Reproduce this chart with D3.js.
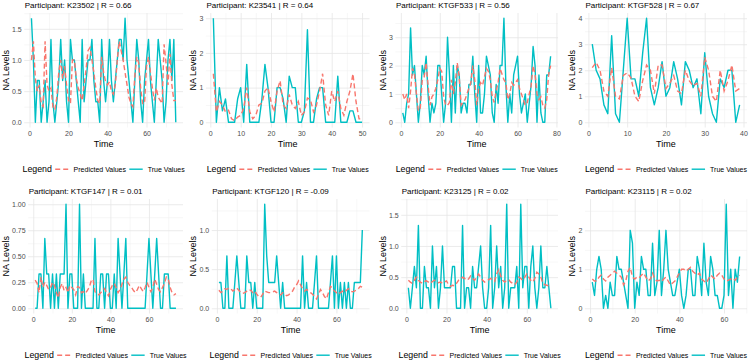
<!DOCTYPE html>
<html>
<head>
<meta charset="utf-8">
<script src="https://cdn.jsdelivr.net/npm/d3@7"></script>
<style>
  body { margin: 0; background: #fff; }
  svg { display: block; font-family: "Liberation Sans", Arial, sans-serif; }
</style>
</head>
<body>
<svg id="chart" width="750" height="361"></svg>
<script>
// ---- data ----
const participants = ["K23502", "K23541", "KTGF533", "KTGF528", "KTGF147", "KTGF120", "K23125", "K23115"];
const rValues = ["0.66", "0.64", "0.56", "0.67", "0.01", "-0.09", "0.02", "0.02"];

const trueK23502 = [1.67,1.0,0,0.67,0.67,0,0.33,0.67,0,0.33, 1.33,0.33,0,0.33,0.67,1.33,0.67,1.0,0.33,0,
  1.33,1.0,1.0,0.67,0.33,0,1.33,0.33,0.67,1.0, 1.0,1.33,0.67,0.33,0.33,0,1.33,0.67,0.33,0.67,
  1.33,0.67,0.33,0.67,1.0,1.33,1.33,1.0,1.67,1.0, 0.67,0.33,0,0.67,1.33,1.0,0.33,0,0.67,1.0,
  1.33,0.67,0.33,0,0.67,1.33,1.0,0.67,0,0.33, 1.0,1.33,0.67,1.33,0];
const predK23502 = [1.0,1.3,0.7,0.5,0.6,0.3,0.25,1.3,0.6,0.5, 0.55,0.25,0.2,0.4,0.8,1.0,0.7,0.9,0.6,0.35,
  0.3,1.0,1.0,0.7,0.55,0.45,0.35,0.6,0.85,1.15, 1.2,1.0,0.8,0.55,0.35,0.3,1.05,0.8,0.65,0.6,
  0.65,0.5,0.45,0.6,1.0,1.3,1.15,1.0,0.8,0.6, 0.4,0.3,0.25,0.75,1.05,0.95,0.55,0.3,0.3,0.9,
  1.05,0.8,0.55,0.35,0.55,0.4,0.35,0.3,1.25,0.95, 0.6,1.1,0.6,0.35,0.35];

const trueK23541 = [3.0,0,1.0,0.33,0.67,0,0,0,0.67,1.0, 0,1.67,0,0,0,0,0.67,1.67,1.0,0,
  0,1.0,1.0,0.67,0, 1.33,1.0,1.0,0,0, 0.33,2.67,0,0,0.67,1.0,1.0,0,0,0,
  0,1.33,0,0,0,0.33,0.33,0,0,0];
const predK23541 = [1.4,0.3,0.6,0.5,0.3,0.35,0.1,0.05,0.15,0.2, 0.4,1.0,0.3,0.1,0.2,0.5,0.55,0.9,1.0,0.6,
  0.3,0.9,1.2,0.5,0.4, 0.8,0.5,0.4,0.6,0.2, 0.3,0.7,0.65,0.3,0.5,0.9,1.4,0.5,0.2,0.9,
  0.6,0.9,0.4,0.2,0.6,0.9,1.4,0.6,0.1,0.1];

const trueKTGF533 = [0.33,0,0.67,1.0,3.33,1.67,2.0,1.0,0,0.67, 2.0,1.67,2.33,1.0,0,0.67,0.33,0.67,2.0,2.0,
  1.0,0,0.67,3.0,1.67,0,2.0,0.33,2.0,1.67, 0.33,0.67,0.67,0.33,1.33,1.33,2.33,1.0,0,2.0,
  0.33,0.33,1.0,2.33,2.0,1.67,0.33,0,1.33,0.67, 2.0,2.0,3.67,1.33,0,1.0,0.33,1.67,2.0,2.33,
  1.0,0.33,0.67,1.0,0,0.67,1.33,2.67,2.0,0, 1.67,0.33,0,0,1.67,1.67,2.33];
const predKTGF533 = [1.0,0.8,1.0,0.5,1.1,1.9,1.7,1.0,0.4,0.5, 1.5,1.6,2.1,1.3,0.6,0.9,1.0,1.2,1.5,1.9,
  1.8,0.9,0.6,0.6,0.7,1.5,1.0,1.4,2.1,1.6, 0.6,0.7,0.8,1.0,1.2,1.4,2.0,1.5,0.6,1.2,
  1.4,1.3,1.6,1.9,1.8,1.5,0.9,0.7,1.1,1.4, 1.9,1.7,1.5,1.4,0.8,1.0,1.4,1.3,1.4,1.5,
  1.2,1.0,0.8,0.6,0.7,1.0,1.3,2.0,1.7,1.0, 0.8,0.9,0.6,0.5,0.8,1.7,2.0];

const trueKTGF528 = [3.0,2.0,1.67,0.67,0.33,3.33,0.33,0,2.0,4.0, 1.67,1.67,1.0,2.67,4.0,1.33,0.67,1.33,2.33,1.0,
  1.33,2.33,1.67,0.67,2.33,2.0,1.33,1.67,0.33,2.67, 1.0,0.33,0,1.67,1.33,2.0,2.0,0,0.67];
const predKTGF528 = [2.1,2.3,2.0,1.2,1.0,2.1,1.0,0.9,1.8,1.9, 1.7,1.0,0.8,1.6,2.2,2.0,1.1,2.2,2.2,1.3,
  1.5,1.8,1.2,1.1,2.0,1.6,1.4,1.5,1.0,2.5, 2.0,1.0,0.8,2.0,1.2,1.6,2.2,1.2,1.3];

const trueKTGF147 = [0,0,0.33,0.33,0,0.67,0.33,0.33,0,0.33, 0,0.33,0,0.33,0.33,0.33,1.0,0,0.33,0.33,
  0,0,0,1.0,0,0.33,0,0,0,0, 0,0.67,0,0,0.33,0.33,0,0.33,0.33,0,
  0,0.33,0,0.67,0.33,0,0.33,0.67,0,0, 0,0,0,0,0,0,0,0,0.33,0.67,
  0.33,0,0.33,0.67,0.33,0,0,0.33,0.33,0.33, 0,0,0,0];
const predKTGF147 = [0.27,0.24,0.15,0.3,0.2,0.25,0.22,0.18,0.2,0.25, 0.22,0.15,0.1,0.2,0.24,0.17,0.2,0.15,0.22,0.2,
  0.18,0.13,0.21,0.2,0.15,0.16,0.14,0.17,0.2,0.26, 0.28,0.16,0.14,0.13,0.15,0.17,0.19,0.15,0.12,0.18,
  0.22,0.24,0.2,0.15,0.18,0.23,0.28,0.3,0.25,0.22, 0.2,0.17,0.15,0.18,0.22,0.19,0.16,0.2,0.25,0.2,
  0.16,0.2,0.28,0.23,0.18,0.16,0.2,0.24,0.3,0.28, 0.2,0.15,0.13,0.14];

const trueKTGF120 = [0.33,0.33,0,0,0.67,0,0,0,0.33,0.67, 0.33,0,0,0,0.67,0.33,0.33,0,0.33,0,
  0,0,0,1.33,0.67,0.33,0.33,0.33,0.33,0.67, 0.33,0,0.33,0,0,0,0,0,0,0,
  0,0,0.67,0,0.33,0,0,0,0.33,0.67, 0,0,0,0,0,0,0.33,0.67,0,0.67,
  0,0.33,0,0.33,0,0.33,0,0,0.33,0.33, 0.33,0.33,1.0];
const predKTGF120 = [0.23,0.2,0.22,0.25,0.24,0.26,0.25,0.22,0.24,0.26, 0.23,0.2,0.19,0.2,0.22,0.24,0.23,0.2,0.22,0.18,
  0.15,0.14,0.18,0.22,0.21,0.2,0.2,0.21,0.22,0.2, 0.18,0.17,0.2,0.18,0.16,0.17,0.2,0.22,0.27,0.3,
  0.35,0.3,0.25,0.22,0.24,0.22,0.2,0.18,0.15,0.12, 0.18,0.24,0.2,0.15,0.12,0.2,0.28,0.26,0.22,0.2,
  0.18,0.2,0.22,0.2,0.23,0.25,0.22,0.21,0.22,0.23, 0.25,0.28,0.27];

const trueK23125 = [0.33,0,0.33,0.67,0.33,1.33,0,0,0.67,0.33, 0.33,0,1.0,0.33,0.67,0,0.33,1.0,0.33,0.33,
  0.33,0.33,0.67,0.67,0,0,0,1.33,0,0.33, 0.33,0,0.67,0.33,0.33,0.67,1.0,0.33,0,0,
  0.33,1.33,0,0.33,1.0,0.33,0.67,0,0.33,1.67, 0,0.33,0.33,0.33,0.67,0,1.67,0.33,0.67,0.67,
  0,0.67,1.0,0.33,0,0.33,1.0,0.33,0.33,0.67, 0.33,0];
const predK23125 = [0.45,0.42,0.4,0.45,0.5,0.45,0.42,0.4,0.43,0.44, 0.42,0.4,0.43,0.45,0.44,0.41,0.42,0.4,0.42,0.44,
  0.38,0.35,0.37,0.36,0.4,0.45,0.47,0.5,0.48,0.45, 0.47,0.52,0.48,0.45,0.5,0.55,0.5,0.45,0.42,0.44,
  0.46,0.48,0.45,0.43,0.55,0.62,0.52,0.45,0.42,0.45, 0.46,0.42,0.4,0.38,0.42,0.5,0.48,0.45,0.5,0.55,
  0.5,0.45,0.42,0.48,0.58,0.55,0.5,0.4,0.38,0.37, 0.36,0.35];

const trueK23115 = [0.67,0.33,1.0,1.33,1.0,0,0.33,0,0.67,0.33, 0.33,1.33,1.0,1.0,0.67,0.33,0,2.0,1.67,0,
  0.67,0.33,1.33,1.0,1.0,0.33,0.33,1.67,0.33,0.67, 2.0,0.33,1.0,2.0,1.0,0.67,0.33,0.33,0.67,1.0,
  0.33,0,0.33,1.0,1.0,0.33,0.33,1.33,1.0,0.33, 1.67,0.67,0.33,1.33,1.0,0.33,0.33,0,0,0.33,
  2.67,0.33,1.0,0,1.0,0.67,1.33];
const predK23115 = [0.75,0.7,0.7,0.8,0.85,0.75,0.7,0.8,0.85,0.9, 0.95,0.9,0.85,0.8,0.6,0.7,0.95,1.05,0.8,0.75,
  0.8,0.78,0.85,0.9,0.8,0.7,0.75,0.9,0.75,0.7, 0.72,0.68,0.75,0.8,0.7,0.6,0.65,0.7,0.8,0.9,
  1.0,1.0,0.95,1.0,1.05,0.95,0.9,0.85,0.9,0.75, 0.7,0.65,0.75,0.85,0.8,0.75,0.85,0.9,0.85,0.75,
  0.7,0.72,0.75,0.78,0.72,0.8,0.85];

const trueSeries = [trueK23502, trueK23541, trueKTGF533, trueKTGF528, trueKTGF147, trueKTGF120, trueK23125, trueK23115];
const predSeries = [predK23502, predK23541, predKTGF533, predKTGF528, predKTGF147, predKTGF120, predK23125, predK23115];

const xTicks = [[0,20,40,60], [0,10,20,30,40,50], [0,20,40,60,80], [0,10,20,30,40],
                [0,20,40,60], [0,20,40,60], [0,20,40,60], [0,20,40,60]];
const yTicks = [[0,0.5,1,1.5], [0,1,2,3], [0,1,2,3], [0,1,2,3,4],
                [0,0.25,0.5,0.75,1], [0,0.5,1], [0,0.5,1,1.5], [0,1,2]];
const yFormats = [".1f", "d", "d", "d", ".2f", ".1f", ".1f", "d"];

const legendLabels = ["Predicted Values", "True Values"];

// ---- layout ----
const colAnchor = [5.5, 193, 382.5, 572];   // centre of the rotated y title
const colRight = [183, 369.5, 558, 747];
const rowTop = [-6.5, 179.5];
const predColor = "#F8766D", trueColor = "#00BFC4";

const svg = d3.select("#chart");

function textWidth(txt, size) {
    const t = svg.append("text").attr("font-size", size).text(txt);
    const w = t.node().getComputedTextLength();
    t.remove();
    return w;
}

function minorTicks(major, domain) {
    const step = major[1] - major[0];
    const res = [];
    for (let v = major[0] - step / 2; v <= domain[1]; v += step) {
        if (v >= domain[0]) res.push(v);
    }
    return res;
}

participants.forEach((name, i) => {
    const col = i % 4, row = Math.floor(i / 4);
    const oy = rowTop[row];
    const truth = trueSeries[i], pred = predSeries[i];
    const fmt = d3.format(yFormats[i]);

    const tickW = d3.max(yTicks[i], v => textWidth(fmt(v), 7));
    const left = colAnchor[col] + 9 + tickW;
    const right = colRight[col];
    const top = oy + 19.5, bottom = oy + 134;

    const n = truth.length;
    const xpad = (n - 1) * 0.05;
    const x = d3.scaleLinear().domain([1 - xpad, n + xpad]).range([left, right]);
    const ext = d3.extent(truth.concat(pred));
    const ypad = (ext[1] - ext[0]) * 0.05;
    const y = d3.scaleLinear().domain([ext[0] - ypad, ext[1] + ypad]).range([bottom, top]);

    const g = svg.append("g");

    // minor grid
    g.append("g")
        .attr("transform", `translate(0,${bottom})`)
        .call(d3.axisBottom(x).tickValues(minorTicks(xTicks[i], x.domain())).tickSize(-(bottom - top)).tickFormat(""))
        .call(a => a.select(".domain").remove())
        .call(a => a.selectAll("line").attr("stroke", "#F2F2F2").attr("stroke-width", 0.6));
    g.append("g")
        .attr("transform", `translate(${left},0)`)
        .call(d3.axisLeft(y).tickValues(minorTicks(yTicks[i], y.domain())).tickSize(-(right - left)).tickFormat(""))
        .call(a => a.select(".domain").remove())
        .call(a => a.selectAll("line").attr("stroke", "#F2F2F2").attr("stroke-width", 0.6));

    // major grid + tick labels
    g.append("g")
        .attr("transform", `translate(0,${bottom})`)
        .call(d3.axisBottom(x).tickValues(xTicks[i]).tickSize(-(bottom - top)).tickPadding(4).tickFormat(d3.format("d")))
        .call(a => a.select(".domain").remove())
        .call(a => a.selectAll("line").attr("stroke", "#E6E6E6").attr("stroke-width", 0.8))
        .call(a => a.selectAll("text").attr("fill", "#4D4D4D").attr("font-size", 7)
            .attr("font-family", '"Liberation Sans", Arial, sans-serif'));
    g.append("g")
        .attr("transform", `translate(${left},0)`)
        .call(d3.axisLeft(y).tickValues(yTicks[i]).tickSize(-(right - left)).tickPadding(2.5).tickFormat(fmt))
        .call(a => a.select(".domain").remove())
        .call(a => a.selectAll("line").attr("stroke", "#E6E6E6").attr("stroke-width", 0.8))
        .call(a => a.selectAll("text").attr("fill", "#4D4D4D").attr("font-size", 7)
            .attr("font-family", '"Liberation Sans", Arial, sans-serif'));

    // lines
    const line = d3.line().x((d, k) => x(k + 1)).y(d => y(d));
    g.append("path").datum(truth)
        .attr("d", line).attr("fill", "none")
        .attr("stroke", trueColor).attr("stroke-width", 1.4).attr("stroke-linejoin", "round");
    g.append("path").datum(pred)
        .attr("d", line).attr("fill", "none")
        .attr("stroke", predColor).attr("stroke-width", 1.4).attr("stroke-dasharray", "5,3");

    // titles
    g.append("text")
        .attr("x", left + 0.5).attr("y", oy + 14.5)
        .attr("font-size", 8).attr("fill", "#000")
        .text(`Participant: ${name} | R = ${rValues[i]}`);
    g.append("text")
        .attr("transform", `translate(${colAnchor[col] + 3.2},${(top + bottom) / 2}) rotate(-90)`)
        .attr("text-anchor", "middle").attr("font-size", 9).attr("fill", "#000")
        .text("NA Levels");
    g.append("text")
        .attr("x", (left + right) / 2).attr("y", oy + 150.7 + 3.2)
        .attr("text-anchor", "middle").attr("font-size", 9).attr("fill", "#000")
        .text("Time");

    // legend
    const ly = oy + 175.7;
    const keyW = 13.4;
    const wTitle = textWidth("Legend", 8.8);
    const w1 = textWidth(legendLabels[0], 7), w2 = textWidth(legendLabels[1], 7);
    const total = wTitle + 3.3 + keyW + 5 + w1 + 3.3 + keyW + 5 + w2;
    let lx = (left + right) / 2 - total / 2;
    const lg = g.append("g");
    lg.append("text").attr("x", lx).attr("y", ly + 3.1).attr("font-size", 8.8).attr("fill", "#000").text("Legend");
    lx += wTitle + 3.3;
    lg.append("line").attr("x1", lx).attr("x2", lx + keyW).attr("y1", ly).attr("y2", ly)
        .attr("stroke", predColor).attr("stroke-width", 1.4).attr("stroke-dasharray", "5,3");
    lx += keyW + 5;
    lg.append("text").attr("x", lx).attr("y", ly + 2.5).attr("font-size", 7).attr("fill", "#000").text(legendLabels[0]);
    lx += w1 + 3.3;
    lg.append("line").attr("x1", lx).attr("x2", lx + keyW).attr("y1", ly).attr("y2", ly)
        .attr("stroke", trueColor).attr("stroke-width", 1.4);
    lx += keyW + 5;
    lg.append("text").attr("x", lx).attr("y", ly + 2.5).attr("font-size", 7).attr("fill", "#000").text(legendLabels[1]);
});
</script>
</body>
</html>
